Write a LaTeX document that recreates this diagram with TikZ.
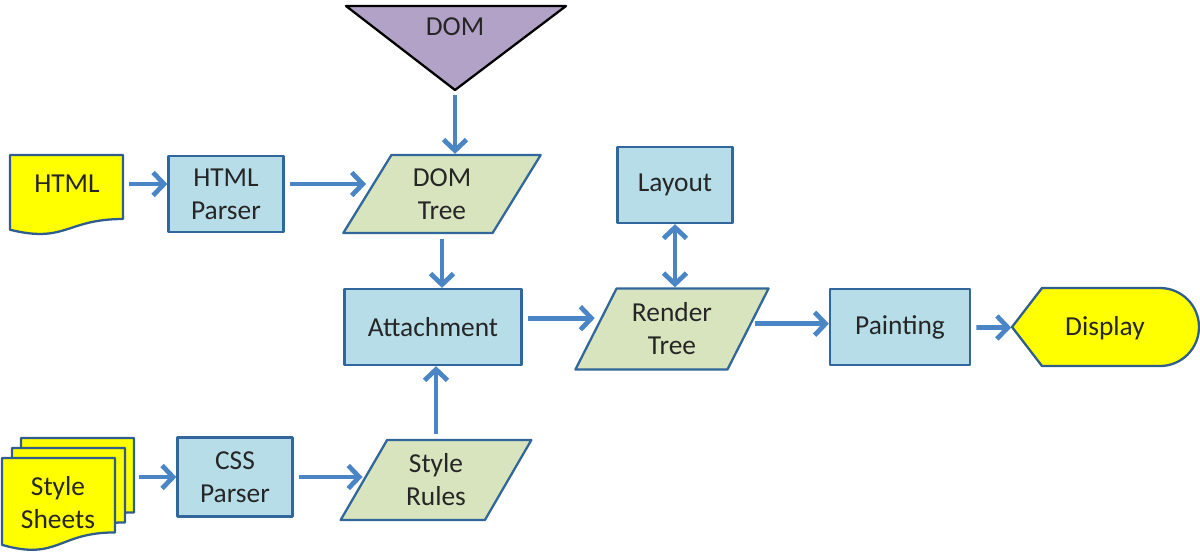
\documentclass[tikz,border=0pt]{standalone}
\usepackage{fontspec}
\setmainfont{Carlito}
\usetikzlibrary{shapes.geometric,arrows.meta}
\definecolor{boxfill}{HTML}{B7DEE8}
\definecolor{boxline}{HTML}{31679A}
\definecolor{datafill}{HTML}{D7E4BD}
\definecolor{flowblue}{HTML}{4A86C6}
\definecolor{domfill}{HTML}{B3A2C7}
\definecolor{docyellow}{HTML}{FFFF00}
\definecolor{docline}{HTML}{2F5E8E}
\tikzset{
  proc/.style={draw=boxline,fill=boxfill,line width=1.3pt,minimum width=2.3cm,
    minimum height=1.52cm,align=center},
  data/.style={trapezium,trapezium left angle=62,trapezium right angle=118,
    trapezium stretches=true,draw=boxline,fill=datafill,line width=1.3pt,
    minimum width=3.96cm,minimum height=1.56cm,align=center},
  doc/.style={draw=docline,fill=docyellow,line width=1.3pt},
  flow/.style={draw=flowblue,line width=2.7pt,shorten <=3pt,
    -{Straight Barb[length=2.2mm,width=4.6mm]}},
  twoway/.style={flow,shorten <=0pt,
    {Straight Barb[length=2.2mm,width=4.6mm]}-{Straight Barb[length=2.2mm,width=4.6mm]}},
}
% page with a wavy bottom edge: left, top, height
\newcommand\docsheet[3]{%
  \draw[doc] (#1,#2) -- (#1+113,#2) -- (#1+113,#2+0.8*#3)
    .. controls (#1+56,#2+0.8*#3) and (#1+56,#2+1.107*#3) .. (#1,#2+0.934*#3) -- cycle;}
\begin{document}
\begin{tikzpicture}[x=0.02cm,y=-0.02cm,line join=round,
  font=\fontsize{15.6}{18.8}\selectfont,text=black!85]
  \useasboundingbox (0,0) rectangle (1200,556);
  % inputs
  \docsheet{10}{155}{80}
  \node[minimum width=2.26cm] (html) at (67,184) {HTML};
  \docsheet{21}{438}{93}
  \docsheet{12}{448}{93}
  \docsheet{2}{458}{93}
  \node[align=center,minimum width=3cm] (sheets) at (58,503) {Style\\Sheets};
  \draw[fill=domfill,line width=1.3pt] (346,6) -- (566,6) -- (455,90) -- cycle;
  \node (dom) at (455,27) {DOM};
  \coordinate (domtip) at (455,90);
  % steps
  \node[proc] (hp) at (226,194) {HTML\\Parser};
  \node[data] (dt) at (442,194) {DOM\\Tree};
  \node[proc,minimum width=3.54cm] (att) at (433,327) {Attachment};
  \node[proc] (lay) at (675,185) {Layout};
  \node[data,minimum height=1.62cm,minimum width=3.9cm] (rt) at (672,329) {Render\\Tree};
  \node[proc,minimum width=2.8cm] (pt) at (900,327) {Painting};
  \node[proc,minimum height=1.58cm] (css) at (235,477) {CSS\\Parser};
  \node[data,minimum height=1.6cm,minimum width=3.84cm] (sr) at (436,480) {Style\\Rules};
  % output
  \draw[doc] (1012,327) -- (1042,288) -- (1160,288)
    arc[start angle=-90,end angle=90,radius=39] -- (1042,366) -- cycle;
  \node[minimum width=3.74cm] (disp) at (1105,328) {Display};
  % flow
  \draw[flow] (html) -- (html -| hp.west);
  \draw[flow] (hp.east |- html) -- (html -| dt.west);
  \draw[flow] (domtip) -- (domtip |- dt.north);
  \draw[flow] (dt.south) -- (dt.south |- att.north);
  \draw[flow] (sheets.east |- css) -- (css);
  \draw[flow] (css) -- (css -| sr.west);
  \draw[flow] (sr.north) -- (sr.north |- att.south);
  \draw[flow] ([yshift=5pt]att.east) -- ([yshift=5pt]att.east -| rt.west);
  \draw[twoway] (lay.south) -- (lay.south |- rt.north);
  \draw[flow] ([yshift=3pt]rt.east) -- ([yshift=3pt]rt.east -| pt.west);
  \draw[flow] (pt) -- (disp);
\end{tikzpicture}
\end{document}
